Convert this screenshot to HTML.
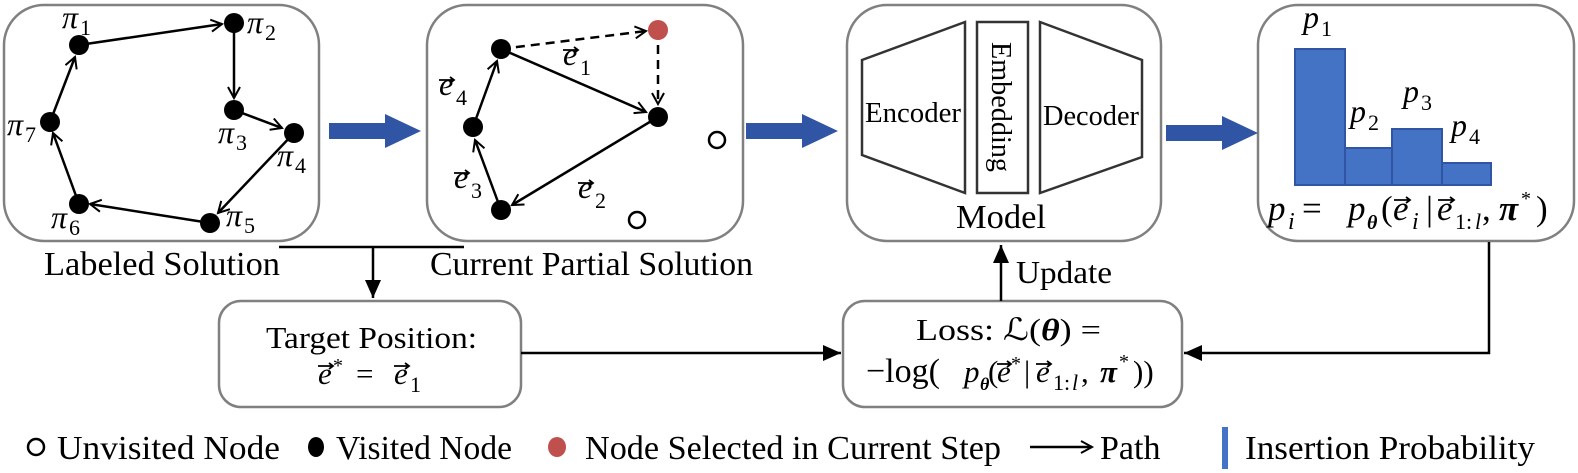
<!DOCTYPE html>
<html><head><meta charset="utf-8"><style>
html,body{margin:0;padding:0;background:#fff;}
svg{display:block;}
text{font-family:"Liberation Serif","Times New Roman",serif;fill:#000;}
.i{font-style:italic;}
.b{font-weight:bold;font-style:italic;}
</style></head><body>
<svg width="1578" height="473" viewBox="0 0 1578 473" xmlns="http://www.w3.org/2000/svg" font-family="Liberation Serif, serif">
<defs>
<marker id="open" markerWidth="16" markerHeight="16" refX="13" refY="8" orient="auto" markerUnits="userSpaceOnUse">
<path d="M2,2 L13,8 L2,14" fill="none" stroke="#000" stroke-width="2"/>
</marker>
<marker id="tri" markerWidth="20" markerHeight="20" refX="18" refY="10" orient="auto" markerUnits="userSpaceOnUse">
<path d="M0,2 L18,10 L0,18 Z" fill="#000"/>
</marker>
</defs>
<g fill="none" stroke="#808080" stroke-width="2.5">
<rect x="4" y="5" width="315" height="236" rx="40"/>
<rect x="427" y="5" width="316" height="236" rx="40"/>
<rect x="847" y="5" width="314" height="236" rx="40"/>
<rect x="1258" y="5" width="316" height="236" rx="40"/>
<rect x="219" y="301" width="302" height="106" rx="22"/>
<rect x="843" y="301" width="339" height="106" rx="22"/>
</g>
<g stroke="#000" stroke-width="2.5" fill="none" marker-end="url(#open)">
<line x1="79" y1="45" x2="222" y2="24"/>
<line x1="234" y1="23" x2="234" y2="98"/>
<line x1="234" y1="110" x2="282" y2="128"/>
<line x1="294" y1="133" x2="218" y2="213"/>
<line x1="210" y1="223" x2="90" y2="204"/>
<line x1="79" y1="204" x2="53" y2="133"/>
<line x1="50" y1="122" x2="75" y2="57"/>
</g>
<g fill="#000">
<circle cx="79" cy="45" r="10"/><circle cx="234" cy="23" r="10"/><circle cx="234" cy="110" r="10"/>
<circle cx="294" cy="133" r="10"/><circle cx="210" cy="223" r="10"/><circle cx="79" cy="204" r="10"/><circle cx="50" cy="122" r="10"/>
</g>
<g font-size="32">
<text x="62" y="28" class="i">π</text><text x="80" y="35" font-size="22">1</text>
<text x="247" y="33" class="i">π</text><text x="265" y="40" font-size="22">2</text>
<text x="218" y="143" class="i">π</text><text x="236" y="150" font-size="22">3</text>
<text x="277" y="166" class="i">π</text><text x="295" y="173" font-size="22">4</text>
<text x="226" y="226" class="i">π</text><text x="244" y="233" font-size="22">5</text>
<text x="51" y="228" class="i">π</text><text x="69" y="235" font-size="22">6</text>
<text x="7" y="135" class="i">π</text><text x="25" y="142" font-size="22">7</text>
</g>
<g stroke="#000" stroke-width="2.5" fill="none" marker-end="url(#open)">
<line x1="501" y1="49" x2="646" y2="31" stroke-dasharray="9,6"/>
<line x1="658" y1="30" x2="658" y2="104" stroke-dasharray="9,6"/>
<line x1="501" y1="49" x2="646" y2="112"/>
<line x1="658" y1="117" x2="512" y2="205"/>
<line x1="501" y1="210" x2="475" y2="140"/>
<line x1="473" y1="127" x2="497" y2="61"/>
</g>
<g fill="#000">
<circle cx="501" cy="49" r="10"/><circle cx="658" cy="117" r="10"/><circle cx="473" cy="127" r="10"/><circle cx="501" cy="210" r="10"/>
</g>
<circle cx="658" cy="30" r="10" fill="#c0504d"/>
<circle cx="717" cy="140" r="8" fill="none" stroke="#000" stroke-width="2.5"/>
<circle cx="637" cy="220" r="8" fill="none" stroke="#000" stroke-width="2.5"/>
<g font-size="32">
<text x="563" y="65" class="i">e</text><text x="580" y="75" font-size="22">1</text>
<text x="439" y="95" class="i">e</text><text x="456" y="105" font-size="22">4</text>
<text x="454" y="188" class="i">e</text><text x="471" y="198" font-size="22">3</text>
<text x="578" y="198" class="i">e</text><text x="595" y="208" font-size="22">2</text>
</g>
<g stroke="#000" stroke-width="1.8" fill="none">
<path d="M563,50 h15 m-4,-3 l4,3 l-4,3"/>
<path d="M439,80 h15 m-4,-3 l4,3 l-4,3"/>
<path d="M454,173 h15 m-4,-3 l4,3 l-4,3"/>
<path d="M578,183 h15 m-4,-3 l4,3 l-4,3"/>
</g>
<g fill="#2f55a4">
<path d="M329,123 L385,123 L385,114 L421,131 L385,148 L385,139 L329,139 Z"/>
<path d="M746,123 L802,123 L802,114 L838,131 L802,148 L802,139 L746,139 Z"/>
<path d="M1166,125 L1222,125 L1222,116 L1258,133 L1222,150 L1222,141 L1166,141 Z"/>
</g>
<g fill="none" stroke="#333" stroke-width="2.5">
<path d="M862,60 L965,22 L965,193 L862,155 Z"/>
<rect x="977" y="22" width="51" height="171"/>
<path d="M1040,22 L1142,60 L1142,157 L1040,193 Z"/>
</g>
<text x="913" y="122" font-size="28" text-anchor="middle" textLength="96" lengthAdjust="spacingAndGlyphs">Encoder</text>
<text x="1091" y="125" font-size="28" text-anchor="middle" textLength="96" lengthAdjust="spacingAndGlyphs">Decoder</text>
<text transform="translate(992,107) rotate(90)" font-size="28" text-anchor="middle" textLength="130" lengthAdjust="spacingAndGlyphs">Embedding</text>
<text x="1001" y="228" font-size="34" text-anchor="middle" textLength="90" lengthAdjust="spacingAndGlyphs">Model</text>
<g fill="#4472c4" stroke="#2f55a4" stroke-width="2">
<rect x="1295" y="49" width="50" height="136"/>
<rect x="1345" y="148" width="47" height="37"/>
<rect x="1392" y="129" width="50" height="56"/>
<rect x="1442" y="163" width="49" height="22"/>
</g>
<g font-size="32">
<text x="1303" y="28" class="i">p</text><text x="1321" y="36" font-size="22">1</text>
<text x="1350" y="122" class="i">p</text><text x="1368" y="130" font-size="22">2</text>
<text x="1403" y="102" class="i">p</text><text x="1421" y="110" font-size="22">3</text>
<text x="1451" y="136" class="i">p</text><text x="1469" y="144" font-size="22">4</text>
</g>
<g font-size="35">
<text x="1268" y="220" class="i">p</text><text x="1288" y="229" font-size="24" class="i">i</text>
<text x="1302" y="220">=</text>
<text x="1348" y="220" class="i">p</text><text x="1367" y="229" font-size="20" class="b">θ</text>
<text x="1381" y="220">(</text>
<text x="1393" y="220" class="i">e</text><text x="1412" y="229" font-size="24" class="i">i</text>
<text x="1426" y="220">|</text>
<text x="1437" y="220" class="i">e</text><text x="1455" y="229" font-size="22">1:</text><text x="1475" y="229" font-size="22" class="i">l</text>
<text x="1482" y="220">,</text>
<text x="1499" y="220" class="b">π</text><text x="1521" y="205" font-size="20">*</text>
<text x="1536" y="220">)</text>
</g>
<g stroke="#000" stroke-width="1.8" fill="none">
<path d="M1394,200 h16 m-4,-3 l4,3 l-4,3"/>
<path d="M1438,200 h16 m-4,-3 l4,3 l-4,3"/>
</g>
<text x="44" y="275" font-size="34" textLength="236" lengthAdjust="spacingAndGlyphs">Labeled Solution</text>
<text x="430" y="275" font-size="34" textLength="323" lengthAdjust="spacingAndGlyphs">Current Partial Solution</text>
<g stroke="#000" stroke-width="2.5" fill="none">
<line x1="279" y1="247" x2="464" y2="247"/>
<line x1="373" y1="247" x2="373" y2="298" marker-end="url(#tri)"/>
<line x1="521" y1="353" x2="841" y2="353" marker-end="url(#tri)"/>
<polyline points="1489,242 1489,353 1184,353" marker-end="url(#tri)"/>
<line x1="1001" y1="301" x2="1001" y2="245" marker-end="url(#tri)"/>
</g>
<text x="1016" y="283" font-size="32" textLength="96" lengthAdjust="spacingAndGlyphs">Update</text>
<text x="266" y="348" font-size="31" textLength="211" lengthAdjust="spacingAndGlyphs">Target Position:</text>
<g font-size="31">
<text x="318" y="384" class="i">e</text><text x="333" y="372" font-size="20">*</text>
<text x="356" y="384">=</text>
<text x="394" y="384" class="i">e</text><text x="410" y="392" font-size="22">1</text>
<text x="916" y="340" textLength="185" lengthAdjust="spacingAndGlyphs">Loss: ℒ(<tspan class="b">θ</tspan>) =</text>
<text x="866" y="382" font-size="34">−log(</text>
<text x="964" y="382" class="i">p</text><text x="980" y="390" font-size="18" class="b">θ</text>
<text x="988" y="382">(</text>
<text x="997" y="382" class="i">e</text><text x="1011" y="370" font-size="20">*</text>
<text x="1024" y="382">|</text>
<text x="1036" y="382" class="i">e</text><text x="1053" y="390" font-size="22">1:</text><text x="1072" y="390" font-size="22" class="i">l</text>
<text x="1081" y="382">,</text>
<text x="1100" y="382" class="b">π</text><text x="1119" y="368" font-size="20">*</text>
<text x="1133" y="382">))</text>
</g>
<g stroke="#000" stroke-width="1.8" fill="none">
<path d="M318,366 h15 m-4,-3 l4,3 l-4,3"/>
<path d="M394,366 h15 m-4,-3 l4,3 l-4,3"/>
<path d="M997,364 h14 m-4,-3 l4,3 l-4,3"/>
<path d="M1036,364 h15 m-4,-3 l4,3 l-4,3"/>
</g>
<circle cx="36" cy="447" r="8" fill="none" stroke="#000" stroke-width="2.5"/>
<text x="57" y="459" font-size="34" textLength="223" lengthAdjust="spacingAndGlyphs">Unvisited Node</text>
<ellipse cx="316" cy="447" rx="8" ry="10" fill="#000"/>
<text x="336" y="459" font-size="34" textLength="176" lengthAdjust="spacingAndGlyphs">Visited Node</text>
<ellipse cx="557" cy="447" rx="9" ry="10" fill="#c0504d"/>
<text x="585" y="459" font-size="34" textLength="416" lengthAdjust="spacingAndGlyphs">Node Selected in Current Step</text>
<line x1="1030" y1="447" x2="1092" y2="447" stroke="#000" stroke-width="2.5" marker-end="url(#open)"/>
<text x="1100" y="459" font-size="34">Path</text>
<rect x="1222" y="427" width="6" height="42" fill="#4472c4"/>
<text x="1245" y="459" font-size="34" textLength="290" lengthAdjust="spacingAndGlyphs">Insertion Probability</text>
</svg>
</body></html>
